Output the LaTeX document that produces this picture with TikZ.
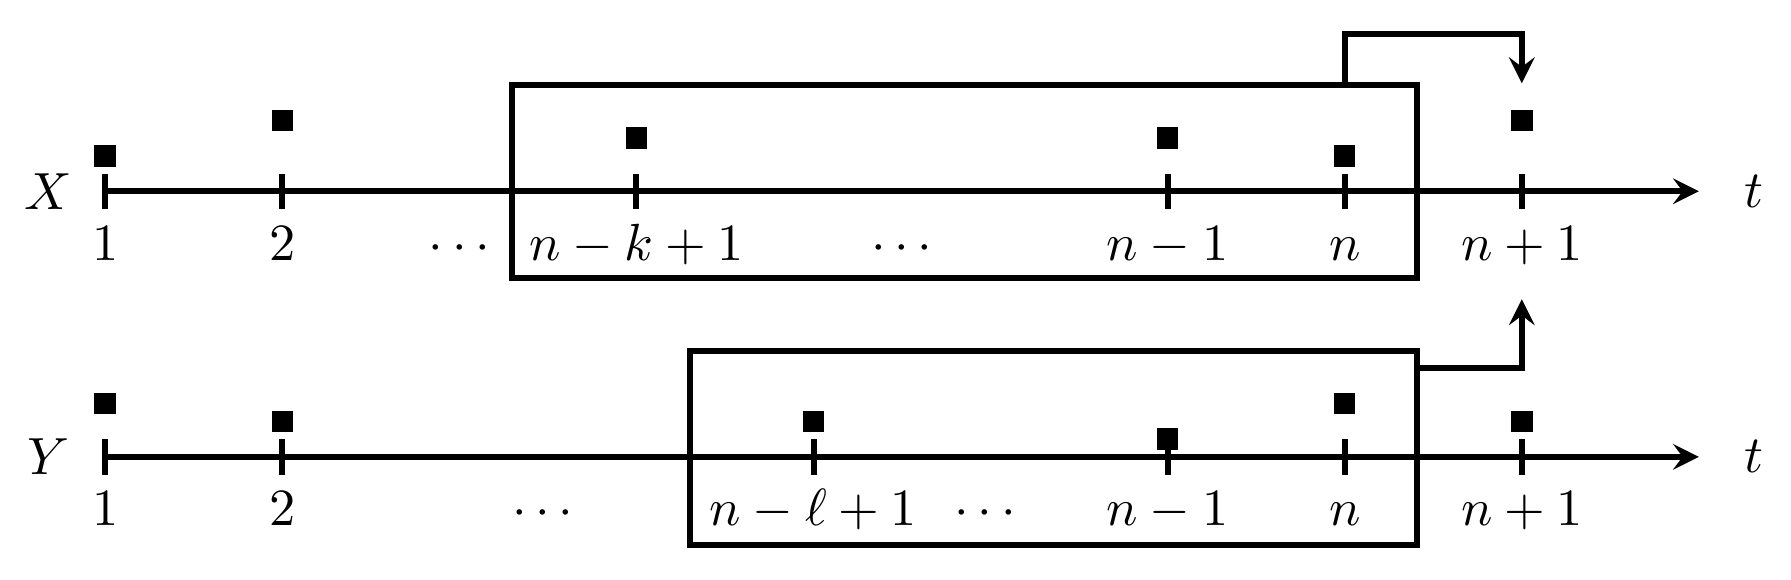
\documentclass[tikz,border=0pt]{standalone}
\begin{document}
\begin{tikzpicture}[x=1.19cm, y=1.19cm, line width=1.15pt, every node/.style={font=\normalsize},
    obs/.style={fill, minimum size=4.1pt, inner sep=0pt}, lab/.style={anchor=base}]
    \useasboundingbox (-0.594,-2.19) rectangle (9.52,1.08);
    % X series
    \node (X) at (-0.32,0) {$X$}; \node (tX) at (9.31,0) {$t$};
    \coordinate (xa) at (0,0); \coordinate (xb) at (9,0); \draw[-stealth] (xa) -- (xb);
    \foreach \i in {0,1,3,6,7,8} \draw (\i,-0.1) -- (\i,0.1);
    \node[lab] (x1) at (0,-0.39) {$1$}; \node[lab] (x2) at (1,-0.39) {$2$}; \node[lab] (xd1) at (2,-0.39) {$\cdots$};
    \node[lab] (xk) at (3,-0.39) {$n-k+1$}; \node[lab] (xd2) at (4.5,-0.39) {$\cdots$};
    \node[lab] (xm) at (6,-0.39) {$n-1$}; \node[lab] (xn) at (7,-0.39) {$n$}; \node[lab] (xp) at (8,-0.39) {$n+1$};
    \node[obs] (xs1) at (0,0.2) {}; \node[obs] (xs2) at (1,0.4) {}; \node[obs] (xsk) at (3,0.3) {};
    \node[obs] (xsm) at (6,0.3) {}; \node[obs] (xsn) at (7,0.2) {}; \node[obs] (xsp) at (8,0.4) {};
    \coordinate (bx1) at (2.3,-0.49); \coordinate (bx2) at (7.41,0.6); \draw (bx1) rectangle (bx2);
    % Y series
    \node (Y) at (-0.32,-1.5) {$Y$}; \node (tY) at (9.31,-1.5) {$t$};
    \coordinate (ya) at (0,-1.5); \coordinate (yb) at (9,-1.5); \draw[-stealth] (ya) -- (yb);
    \foreach \i in {0,1,4,6,7,8} \draw (\i,-1.6) -- (\i,-1.4);
    \node[lab] (y1) at (0,-1.89) {$1$}; \node[lab] (y2) at (1,-1.89) {$2$}; \node[lab] (yd1) at (2.47,-1.89) {$\cdots$};
    \node[lab] (yl) at (4,-1.89) {$n-\ell+1$}; \node[lab] (yd2) at (4.97,-1.89) {$\cdots$};
    \node[lab] (ym) at (6,-1.89) {$n-1$}; \node[lab] (yn) at (7,-1.89) {$n$}; \node[lab] (yp) at (8,-1.89) {$n+1$};
    \node[obs] (ys1) at (0,-1.2) {}; \node[obs] (ys2) at (1,-1.3) {}; \node[obs] (ysl) at (4,-1.3) {};
    \node[obs] (ysm) at (6,-1.4) {}; \node[obs] (ysn) at (7,-1.2) {}; \node[obs] (ysp) at (8,-1.3) {};
    \coordinate (by1) at (3.3,-2.0); \coordinate (by2) at (7.41,-0.9); \draw (by1) rectangle (by2);
    % feeding n+1
    \coordinate (xsrc) at (7,0.6); \coordinate (xdst) at (8,0.61);
    \draw[-stealth] (xsrc) -- ++(0,0.29) -| (xdst);
    \coordinate (ysrc) at (7.41,-1.0); \coordinate (ydst) at (8,-0.61);
    \draw[-stealth] (ysrc) -| (ydst);
\end{tikzpicture}
\end{document}
